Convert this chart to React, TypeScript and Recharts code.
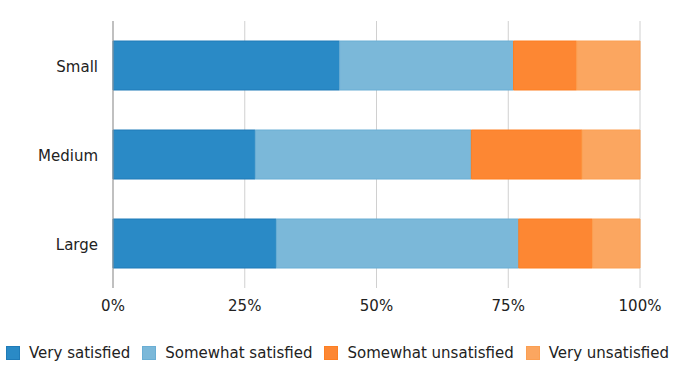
import { Bar, BarChart, CartesianGrid, XAxis, YAxis } from "recharts";

const categories = ["Small", "Medium", "Large"];
const verySatisfied = [43, 27, 31];
const somewhatSatisfied = [33, 41, 46];
const somewhatUnsatisfied = [12, 21, 14];
const veryUnsatisfied = [12, 11, 9];
const xTicks = [0, 25, 50, 75, 100];

const series = [
  { key: "verySatisfied", name: "Very satisfied", fill: "#2a8ac6", stroke: "#1f7bb8" },
  { key: "somewhatSatisfied", name: "Somewhat satisfied", fill: "#7bb8d9", stroke: "#6aaed4" },
  { key: "somewhatUnsatisfied", name: "Somewhat unsatisfied", fill: "#fd8733", stroke: "#fd7f22" },
  { key: "veryUnsatisfied", name: "Very unsatisfied", fill: "#fba660", stroke: "#fb9f52" },
];

const data = categories.map((category, i) => ({
  category,
  verySatisfied: verySatisfied[i],
  somewhatSatisfied: somewhatSatisfied[i],
  somewhatUnsatisfied: somewhatUnsatisfied[i],
  veryUnsatisfied: veryUnsatisfied[i],
}));

const font = "'DejaVu Sans', Verdana, sans-serif";

export default function App() {
  return (
    <div style={{ position: "absolute", left: 0, top: 0, width: 675, height: 381, background: "#fff", fontFamily: font }}>
      <BarChart
        width={675}
        height={330}
        data={data}
        layout="vertical"
        margin={{ top: 21, right: 35, left: 0, bottom: 0 }}
        barCategoryGap={20}
      >
        <CartesianGrid horizontal={false} stroke="#d0d0d0" />
        <XAxis
          type="number"
          domain={[0, 100]}
          ticks={xTicks}
          tickFormatter={(v) => `${v}%`}
          axisLine={false}
          tickLine={false}
          height={42}
          tickMargin={6}
          tick={{ fill: "#222", fontSize: 15, fontFamily: font }}
        />
        <YAxis
          type="category"
          dataKey="category"
          width={113}
          axisLine={{ stroke: "#999" }}
          tickLine={false}
          tickMargin={9}
          tick={{ fill: "#222", fontSize: 15, fontFamily: font, dy: 1 }}
        />
        {series.map((s) => (
          <Bar
            key={s.key}
            dataKey={s.key}
            name={s.name}
            stackId="a"
            fill={s.fill}
            stroke={s.stroke}
            strokeWidth={1}
            isAnimationActive={false}
          />
        ))}
      </BarChart>
      <div
        style={{
          position: "absolute",
          left: 6,
          top: 344,
          display: "flex",
          alignItems: "center",
          fontSize: 15,
          color: "#222",
          whiteSpace: "nowrap",
        }}
      >
        {series.map((s) => (
          <div key={s.key} style={{ display: "flex", alignItems: "center", marginRight: 12 }}>
            <span
              style={{
                display: "inline-block",
                width: 14,
                height: 14,
                background: s.fill,
                border: `1px solid ${s.stroke}`,
                boxSizing: "border-box",
                marginRight: 9,
              }}
            />
            <span>{s.name}</span>
          </div>
        ))}
      </div>
    </div>
  );
}
